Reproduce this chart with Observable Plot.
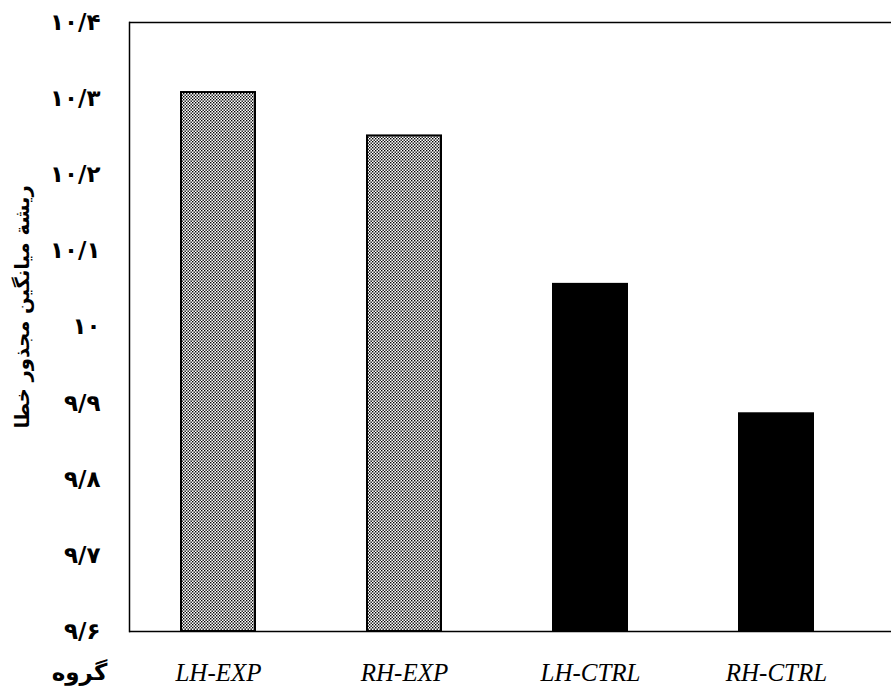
<!DOCTYPE html>
<html><head><meta charset="utf-8">
<script src="https://cdn.jsdelivr.net/npm/d3@7"></script>
<script src="https://cdn.jsdelivr.net/npm/@observablehq/plot@0.6"></script>
<style>body{margin:0;background:#fff}</style>
</head><body><div id="chart"></div>
<script>
const groups = ["LH-EXP", "RH-EXP", "LH-CTRL", "RH-CTRL"];
const rmse = [10.308, 10.251, 10.056, 9.886];
const kinds = ["EXP", "EXP", "CTRL", "CTRL"];
const yDomain = [9.6, 10.4];
const yTicks = [9.6, 9.7, 9.8, 9.9, 10.0, 10.1, 10.2, 10.3, 10.4];
const yTickLabels = ["۹/۶", "۹/۷", "۹/۸", "۹/۹", "۱۰", "۱۰/۱", "۱۰/۲", "۱۰/۳", "۱۰/۴"];
const yTitle = "ریشة میانگین مجذور خطا";
const xTitle = "گروه";

const data = groups.map((g, i) => ({group: g, value: rmse[i], kind: kinds[i]}));

const plot = Plot.plot({
  width: 891, height: 689,
  marginLeft: 129, marginRight: 0, marginTop: 22, marginBottom: 58,
  style: {background: "#fff", color: "#000"},
  x: {domain: groups, paddingInner: 0.6, paddingOuter: 0.34, align: 0.4, axis: null},
  y: {domain: yDomain, axis: null},
  color: {domain: ["EXP", "CTRL"], range: ["url(#dots)", "#000"]},
  marks: [
    Plot.barY(data, {x: "group", y1: yDomain[0], y2: "value", fill: "kind", stroke: "#000", strokeWidth: 2}),
    Plot.ruleY(yDomain, {stroke: "#000", strokeWidth: 1.5}),
    Plot.frame({anchor: "left", stroke: "#000", strokeWidth: 1.5}),
    Plot.axisY({ticks: yTicks, tickFormat: d => yTickLabels[yTicks.indexOf(d)], tickSize: 0, tickPadding: 29,
      fontFamily: "DejaVu Sans", fontWeight: "bold", fontSize: 23, fill: "#000", label: null}),
    Plot.axisX({tickSize: 0, tickPadding: 32, fontFamily: "Liberation Serif", fontStyle: "italic",
      fontSize: 25, fill: "#000", label: null}),
    Plot.text([yTitle], {text: d => d, frameAnchor: "left", dx: -107, dy: -20, rotate: -90,
      fontFamily: "DejaVu Sans", fontWeight: "bold", fontSize: 19.5, fill: "#000", textAnchor: "middle"}),
    Plot.text([xTitle], {text: d => d, frameAnchor: "bottom-left", dx: -50, dy: 41,
      fontFamily: "DejaVu Sans", fontWeight: "bold", fontSize: 23, fill: "#000", textAnchor: "middle", lineAnchor: "middle"})
  ]
});

d3.select(plot).insert("defs", ":first-child").html(
  `<pattern id="dots" patternUnits="userSpaceOnUse" width="3" height="3">
     <rect width="3" height="3" fill="#fff"/>
     <rect x="0" y="0" width="1.4" height="1.4" fill="#000"/>
     <rect x="1.5" y="1.5" width="1.4" height="1.4" fill="#000"/>
   </pattern>`);

document.getElementById("chart").appendChild(plot);
</script>
</body></html>
